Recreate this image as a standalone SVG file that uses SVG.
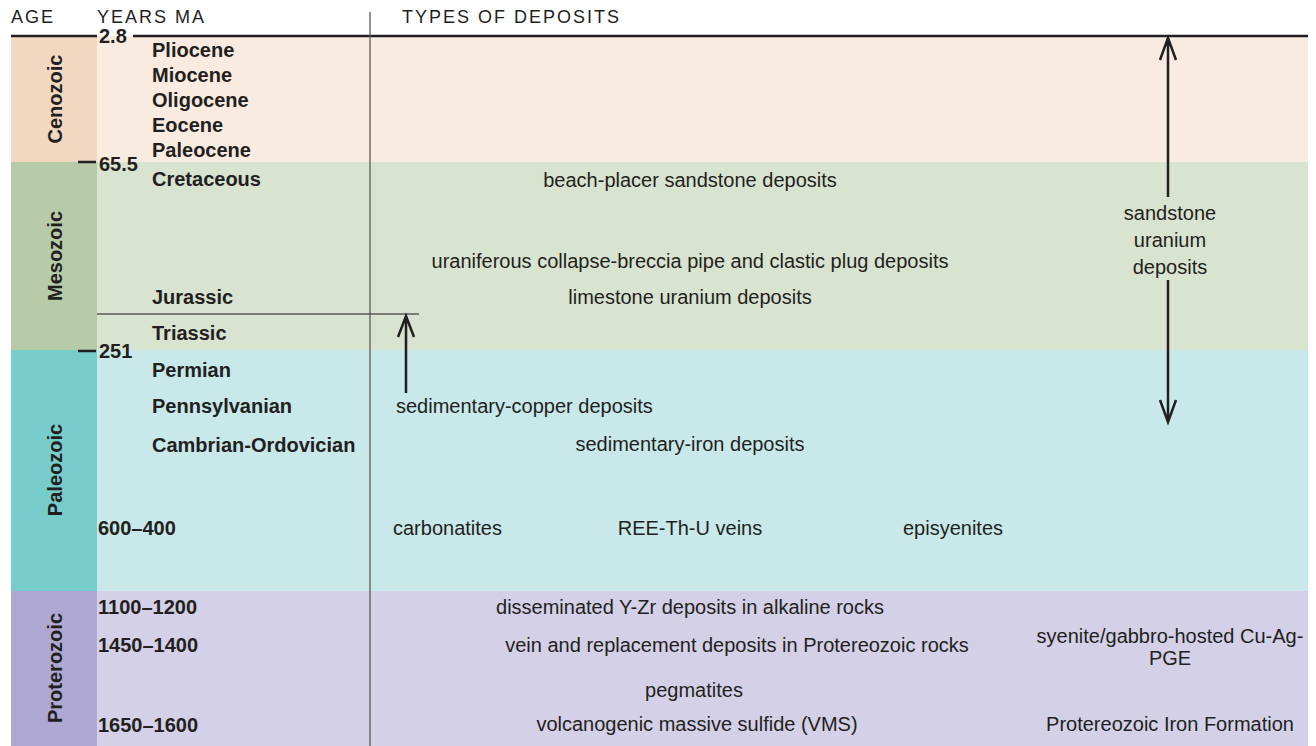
<svg xmlns="http://www.w3.org/2000/svg" width="1316" height="746" viewBox="0 0 1316 746">
<defs>
<style>
text{font-family:"Liberation Sans",Arial,sans-serif;fill:#231f20}
.hdr{font-size:18px;letter-spacing:2px}
.b{font-size:20px;font-weight:bold}
.r{font-size:20px}
.m{text-anchor:middle}
.ax{stroke:#231f20;stroke-width:2.5;fill:none}
.thin{stroke:#5a5a5a;stroke-width:1.3;fill:none}
</style>
</defs>
<rect width="1316" height="746" fill="#ffffff"/>
<g id="cenozoic">
<rect x="11" y="36" width="86" height="126" fill="#f2d8c1"/>
<rect x="97" y="36" width="1211" height="126" fill="#f9ebdf"/>
<text class="b m" transform="translate(62,99) rotate(-90)">Cenozoic</text>
<text class="b" x="152" y="57">Pliocene</text>
<text class="b" x="152" y="82">Miocene</text>
<text class="b" x="152" y="107">Oligocene</text>
<text class="b" x="152" y="132">Eocene</text>
<text class="b" x="152" y="157">Paleocene</text>
</g>
<g id="mesozoic">
<rect x="11" y="162" width="86" height="188" fill="#b7cba9"/>
<rect x="97" y="162" width="1211" height="188" fill="#d8e3d0"/>
<text class="b m" transform="translate(62,256) rotate(-90)">Mesozoic</text>
<text class="b" x="152" y="186">Cretaceous</text>
<text class="b" x="152" y="304">Jurassic</text>
<text class="b" x="152" y="340">Triassic</text>
<text class="r m" x="690" y="187">beach-placer sandstone deposits</text>
<text class="r m" x="690" y="268">uraniferous collapse-breccia pipe and clastic plug deposits</text>
<text class="r m" x="690" y="304">limestone uranium deposits</text>
</g>
<g id="paleozoic">
<rect x="11" y="350" width="86" height="241" fill="#77cccc"/>
<rect x="97" y="350" width="1211" height="241" fill="#c8e8ea"/>
<text class="b m" transform="translate(62,470) rotate(-90)">Paleozoic</text>
<text class="b" x="152" y="377">Permian</text>
<text class="b" x="152" y="413">Pennsylvanian</text>
<text class="b" x="152" y="452">Cambrian-Ordovician</text>
<text class="b" x="98" y="535">600–400</text>
<text class="r" x="396" y="413">sedimentary-copper deposits</text>
<text class="r m" x="690" y="451">sedimentary-iron deposits</text>
<text class="r" x="393" y="535">carbonatites</text>
<text class="r m" x="690" y="535">REE-Th-U veins</text>
<text class="r m" x="953" y="535">episyenites</text>
</g>
<g id="proterozoic">
<rect x="11" y="591" width="86" height="155" fill="#aea8d2"/>
<rect x="97" y="591" width="1211" height="155" fill="#d3d0e7"/>
<text class="b m" transform="translate(62,668) rotate(-90)">Proterozoic</text>
<text class="b" x="98" y="614">1100–1200</text>
<text class="b" x="98" y="652">1450–1400</text>
<text class="b" x="98" y="732">1650–1600</text>
<text class="r m" x="690" y="614">disseminated Y-Zr deposits in alkaline rocks</text>
<text class="r m" x="737" y="652">vein and replacement deposits in Protereozoic rocks</text>
<text class="r m" x="694" y="697">pegmatites</text>
<text class="r m" x="697" y="731">volcanogenic massive sulfide (VMS)</text>
<text class="r m" x="1170" y="643">syenite/gabbro-hosted Cu-Ag-</text>
<text class="r m" x="1170" y="665">PGE</text>
<text class="r m" x="1170" y="731">Protereozoic Iron Formation</text>
</g>
<g id="header">
<text class="hdr" x="11" y="23">AGE</text>
<text class="hdr" x="97" y="23">YEARS MA</text>
<text class="hdr" x="402" y="23">TYPES OF DEPOSITS</text>
<text class="b" x="99" y="43">2.8</text>
<text class="b" x="99" y="171">65.5</text>
<text class="b" x="99" y="358">251</text>
</g>
<g id="sandstone-uranium">
<text class="r m" x="1170" y="220">sandstone</text>
<text class="r m" x="1170" y="247">uranium</text>
<text class="r m" x="1170" y="274">deposits</text>
</g>
<g id="connectors">
<path class="ax" d="M11 36H97M133 36H1308"/>
<path class="ax" d="M78 162H96M78 351H96"/>
<path class="thin" d="M370 12V746"/>
<path class="thin" d="M97 314H419"/>
<path class="ax" d="M406 393V317M398 337L406 316L414 337"/>
<path class="ax" d="M1168 38V197M1160 60L1168 38L1176 60"/>
<path class="ax" d="M1168 280V421M1160 400L1168 422L1176 400"/>
</g>
</svg>
